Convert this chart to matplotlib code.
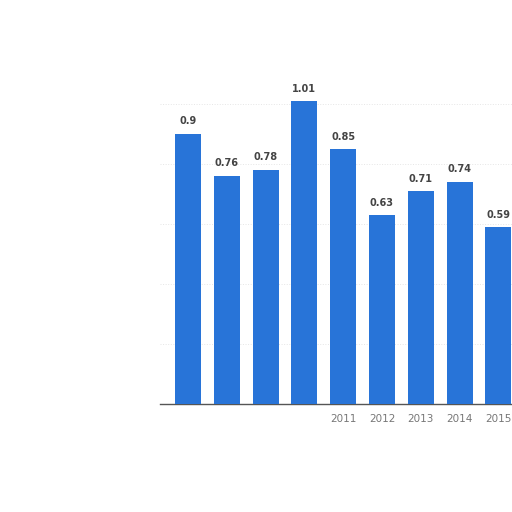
import matplotlib.pyplot as plt

years = ['2007', '2008', '2009', '2010', '2011', '2012', '2013', '2014', '2015']
values = [0.9, 0.76, 0.78, 1.01, 0.85, 0.63, 0.71, 0.74, 0.59]
hidden_years = ['2007', '2008', '2009', '2010']

fig = plt.figure(figsize=(5.12, 5.12), dpi=100)
ax = fig.add_axes([160 / 512, 108 / 512, 352 / 512, 360 / 512])

x = range(len(years))
ax.bar(x, values, width=0.67, color='#2874d8', zorder=3)

for i, v in enumerate(values):
    ax.text(i, v + 0.025, f'{v:g}', ha='center', va='bottom',
            fontsize=7, fontweight='bold', color='#444444', zorder=4)

ax.set_xlim(-0.72, 8.35)
ax.set_ylim(0, 1.2)
ax.set_yticks([0.2, 0.4, 0.6, 0.8, 1.0])
ax.yaxis.grid(True, color='#e6e6e6', linestyle=':', linewidth=0.7, zorder=0)
ax.tick_params(axis='y', left=False, labelleft=False)

ax.set_xticks(list(x))
ax.set_xticklabels(years, fontsize=7.5)
ax.tick_params(axis='x', length=0, pad=7)
for lbl in ax.get_xticklabels():
    lbl.set_color('white' if lbl.get_text() in hidden_years else '#777777')

for s in ['top', 'right', 'left']:
    ax.spines[s].set_visible(False)
ax.spines['bottom'].set_color('#555555')
ax.spines['bottom'].set_linewidth(1.0)

fig.savefig('out.png', dpi=100)
